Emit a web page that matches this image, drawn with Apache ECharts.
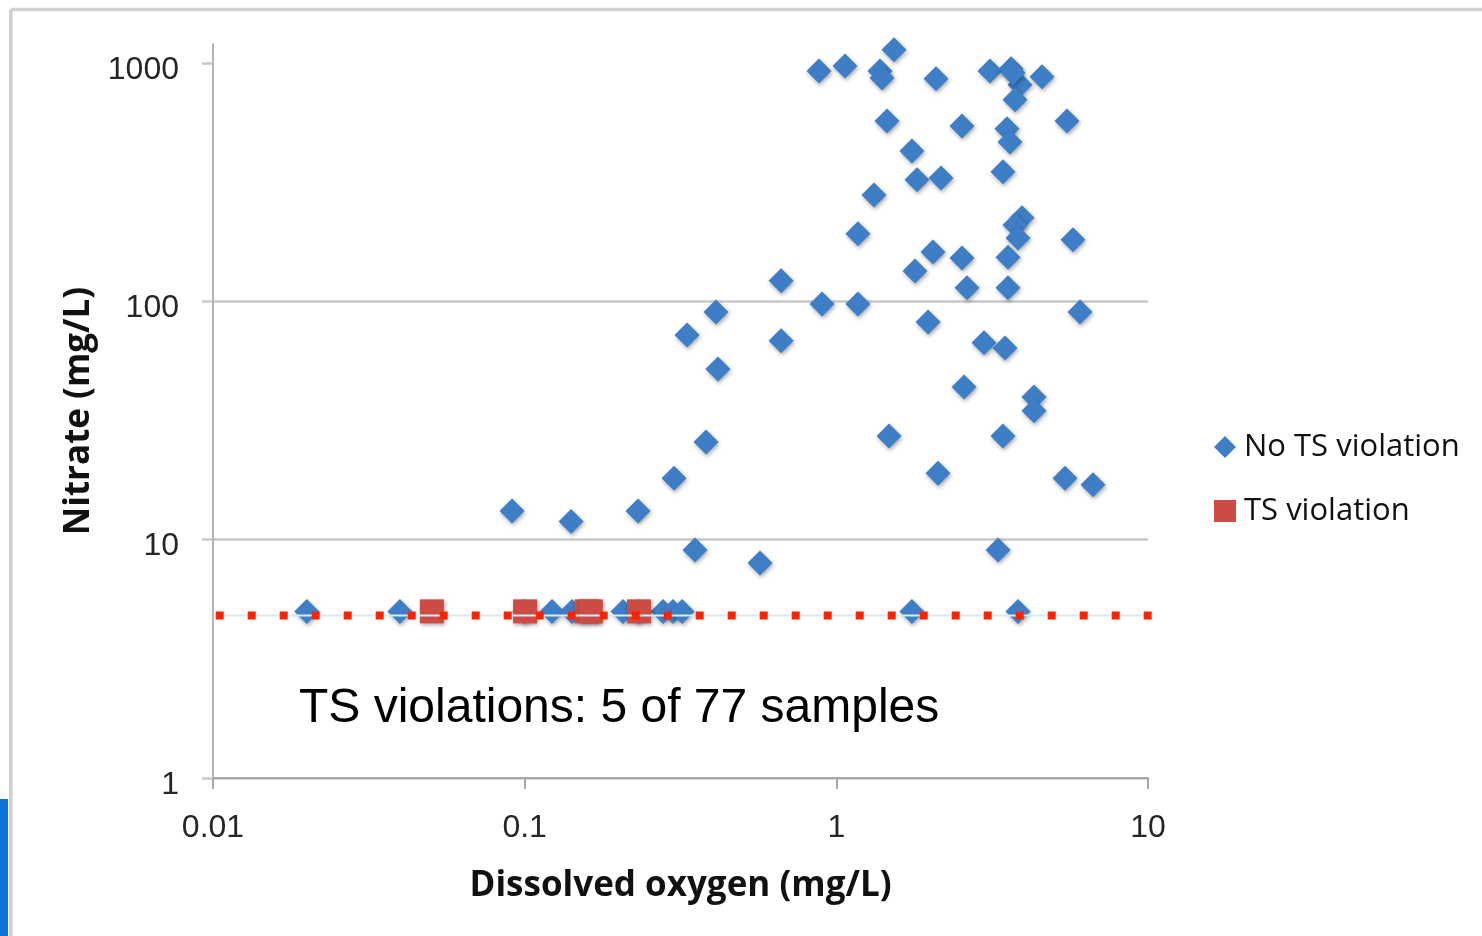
<!DOCTYPE html>
<html>
<head>
<meta charset="utf-8">
<script src="https://cdn.jsdelivr.net/npm/echarts@6/dist/echarts.min.js"></script>
<style>
  html, body { margin: 0; padding: 0; background: #fff; }
  #chart { width: 1482px; height: 936px; }
</style>
</head>
<body>
<div id="chart"></div>
<script>
// ---- data ----
const seriesNames = ['No TS violation', 'TS violation'];

// Dissolved oxygen (mg/L) for samples without violation
const noViolationDO = [
  0.880, 1.066, 1.531, 1.381, 1.402, 2.088, 3.112, 3.636, 4.569, 3.884, 3.744, 3.689,
  1.454, 2.531, 5.496, 3.528, 3.608, 1.748, 1.815, 2.167, 3.425, 1.321, 1.173,
  3.942, 3.744, 3.828, 5.746, 2.042, 2.531, 3.554, 1.788, 2.626, 3.554,
  0.665, 0.900, 1.173, 0.411, 6.051, 1.969, 0.332, 0.665, 2.977, 3.477, 0.417,
  2.569, 4.308, 4.308, 0.382, 1.476, 3.425, 2.119, 5.416, 6.662, 0.3015,
  0.0911, 0.1409, 0.2311, 0.352, 0.569, 3.303,
  0.0200, 0.0398, 0.1224, 0.1419, 0.2068, 0.278, 0.299, 0.320, 1.748, 3.828,
  0.100, 0.232
];
// Nitrate (mg/L) for samples without violation
const noViolationNitrate = [
  925, 971, 1134, 925, 865, 857, 925, 944, 874, 809, 700, 908,
  571, 544, 571, 529, 466, 427, 323, 329, 349, 279, 192,
  224, 209, 184, 181, 161, 152, 153, 134, 114, 114,
  122, 97.4, 97.4, 90.2, 90.2, 81.9, 72.2, 68.2, 66.9, 63.7, 52.0,
  43.7, 39.7, 34.7, 25.7, 27.2, 27.2, 19.0, 18.1, 17.0, 18.1,
  13.2, 11.9, 13.2, 9.05, 7.98, 9.05,
  5, 5, 5, 5, 5, 5, 5, 5, 5, 5,
  5, 5
];
// Samples with TS violation
const violationDO = [0.0504, 0.1003, 0.158, 0.163, 0.2328];
const violationNitrate = [5, 5, 5, 5, 5];

// Threshold (dotted) line: [DO start, DO end] at a fixed nitrate level
const thresholdNitrate = 4.8;
const thresholdDO = [0.0102, 10.3];
const guideDO = [0.0102, 10.93];

// Axes
const xTickLabels = ['0.01', '0.1', '1', '10'];
const xMin = 0.01, xMax = 10;
const yTickValues = [1, 10, 100, 1000];
const yTickLabels = ['1', '10', '100', '1000'];
const yMin = 1, yMax = 1200;

const annotationText = 'TS violations: 5 of 77 samples';
const xAxisTitle = 'Dissolved oxygen (mg/L)';
const yAxisTitle = 'Nitrate (mg/L)';

// ---- build ----
const zip = (a, b) => a.map((v, i) => [v, b[i]]);
const chart = echarts.init(document.getElementById('chart'));

const tickFont = { fontFamily: 'Liberation Sans', fontSize: 32, color: '#262626' };
const titleFont = { fontFamily: 'Open Sans', fontWeight: 'bold', fontSize: 35, color: '#111' };
const shadow = { shadowBlur: 4, shadowOffsetX: 1, shadowOffsetY: 2, shadowColor: 'rgba(0,0,0,0.35)' };

chart.setOption({
  animation: false,
  backgroundColor: '#fff',
  grid: { left: 213, right: 334, top: 44, bottom: 158, containLabel: false },
  legend: {
    orient: 'vertical',
    left: 1209,
    top: 426,
    itemWidth: 22,
    itemHeight: 22,
    itemGap: 32,
    textStyle: { fontFamily: 'Open Sans', fontSize: 31, color: '#111', lineHeight: 32, padding: [0, 0, 0, 3] },
    data: [
      { name: seriesNames[0], icon: 'diamond' },
      { name: seriesNames[1], icon: 'rect' }
    ]
  },
  xAxis: {
    type: 'log',
    logBase: 10,
    min: xMin,
    max: xMax,
    name: xAxisTitle,
    nameLocation: 'middle',
    nameGap: 91,
    nameTextStyle: titleFont,
    axisLine: { show: true, lineStyle: { color: '#a8a8a8', width: 2 } },
    axisTick: { show: true, length: 11, inside: false, lineStyle: { color: '#a8a8a8', width: 2 } },
    axisLabel: Object.assign({
      margin: 34,
      formatter: v => xTickLabels[Math.round(Math.log10(v)) + 2]
    }, tickFont),
    splitLine: { show: false }
  },
  yAxis: {
    type: 'log',
    logBase: 10,
    min: yMin,
    max: yMax,
    name: yAxisTitle,
    nameLocation: 'middle',
    nameGap: 114,
    nameTextStyle: titleFont,
    axisLine: { show: true, lineStyle: { color: '#9c9c9c', width: 1.5 } },
    axisTick: { show: true, length: 11, inside: false, customValues: yTickValues,
                lineStyle: { color: '#c8c8c8', width: 2.5 } },
    axisLabel: Object.assign({
      margin: 34,
      verticalAlign: 'top',
      lineHeight: 14,
      customValues: yTickValues,
      formatter: v => yTickLabels[Math.round(Math.log10(v))]
    }, tickFont),
    splitLine: { show: true, showMaxLine: false, lineStyle: { color: '#c8c8c8', width: 2.5 } }
  },
  graphic: [
    { type: 'line', shape: { x1: 10.5, y1: 9.5, x2: 1482, y2: 9.5 }, style: { stroke: '#cfcfcf', lineWidth: 3.5 }, silent: true },
    { type: 'line', shape: { x1: 10.8, y1: 9.5, x2: 10.8, y2: 936 }, style: { stroke: '#cfcfcf', lineWidth: 3.5 }, silent: true },
    { type: 'rect', shape: { x: 0, y: 799, width: 8, height: 137 }, style: { fill: '#0a74da' }, silent: true },
    { type: 'text', x: 299, y: 709, z: 20,
      style: { text: annotationText, fontFamily: 'Liberation Sans', fontSize: 48, fill: '#000', verticalAlign: 'middle' } }
  ],
  series: [
    {
      name: seriesNames[0],
      type: 'scatter',
      symbol: 'diamond',
      symbolSize: 25,
      clip: false,
      z: 2,
      itemStyle: Object.assign({ color: '#3d7ec6', opacity: 1 }, shadow),
      data: zip(noViolationDO, noViolationNitrate)
    },
    {
      name: seriesNames[1],
      type: 'scatter',
      symbol: 'rect',
      symbolSize: 24,
      clip: false,
      z: 3,
      itemStyle: Object.assign({ color: '#cd4b45', opacity: 1 }, shadow),
      data: zip(violationDO, violationNitrate)
    },
    {
      name: 'guide',
      type: 'line',
      clip: false,
      silent: true,
      showSymbol: false,
      symbol: 'none',
      z: 8,
      lineStyle: { color: '#d6eeee', width: 2, type: 'solid' },
      data: guideDO.map(x => [x, thresholdNitrate])
    },
    {
      name: 'threshold',
      type: 'line',
      clip: false,
      silent: true,
      showSymbol: false,
      symbol: 'none',
      z: 10,
      lineStyle: { color: '#ff2200', width: 8, type: [8, 24], cap: 'butt' },
      data: thresholdDO.map(x => [x, thresholdNitrate])
    }
  ]
});
</script>
</body>
</html>
